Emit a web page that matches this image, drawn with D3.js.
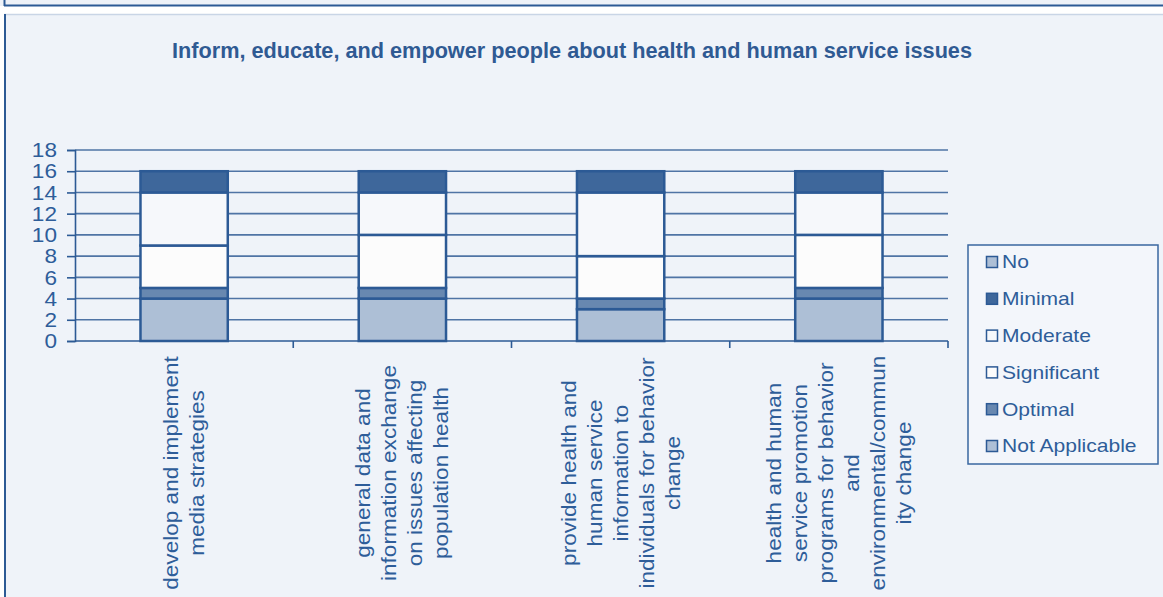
<!DOCTYPE html>
<html>
<head>
<meta charset="utf-8">
<script src="https://cdn.jsdelivr.net/npm/d3@7"></script>
<style>
  body { margin: 0; background: #ffffff; }
  svg { display: block; font-family: "Liberation Sans", Arial, sans-serif; }
</style>
</head>
<body>
<div id="chart"></div>
<script>

// chart data
const title = "Inform, educate, and empower people about health and human service issues";

const categories = ["c1", "c2", "c3", "c4"];

const categoryLabels = [
  ["develop and implement", "media strategies"],
  ["general data and", "information exchange", "on issues affecting", "population health"],
  ["provide health and", "human service", "information to", "individuals for behavior", "change"],
  ["health and human", "service promotion", "programs for behavior", "and", "environmental/commun", "ity change"]
];

// stacking order, bottom to top
const seriesNames = ["Not Applicable", "Optimal", "Significant", "Moderate", "Minimal", "No"];

const notApplicable = [4, 4, 3, 4];
const optimal       = [1, 1, 1, 1];
const significant   = [4, 5, 4, 5];
const moderate      = [5, 4, 6, 4];
const minimal       = [2, 2, 2, 2];
const no            = [0, 0, 0, 0];

const yTicks = [0, 2, 4, 6, 8, 10, 12, 14, 16, 18];

const width = 1163, height = 597;
const margin = {top: 150, right: 215, bottom: 256, left: 75};

const colors = {
  "Not Applicable": "#adbfd6",
  "Optimal": "#6888b0",
  "Significant": "#fcfcfc",
  "Moderate": "#f6f8fb",
  "Minimal": "#3e679b",
  "No": "#adbfd6"
};
const blue = "#2c5a95";
const textBlue = "#2e5d99";

// build rows for d3.stack
const seriesValues = [notApplicable, optimal, significant, moderate, minimal, no];
const rows = categories.map((c, i) => {
  let r = {cat: c};
  seriesNames.forEach((s, j) => { r[s] = seriesValues[j][i]; });
  return r;
});
const stacked = d3.stack().keys(seriesNames)(rows);

let svg = d3.select("#chart")
  .append("svg")
  .attr("width", width)
  .attr("height", height);

// backgrounds / frames
svg.append("rect").attr("x", 0).attr("y", 0).attr("width", width).attr("height", 6)
   .attr("fill", "#eef2f8");
svg.append("line").attr("x1", 4).attr("x2", width).attr("y1", 5.5).attr("y2", 5.5)
   .attr("stroke", blue).attr("stroke-width", 2);
svg.append("line").attr("x1", 4.5).attr("x2", 4.5).attr("y1", 0).attr("y2", 6)
   .attr("stroke", blue).attr("stroke-width", 2);

svg.append("rect").attr("x", 4).attr("y", 14).attr("width", width).attr("height", height)
   .attr("fill", "#eff3f9");
svg.append("line").attr("x1", 4).attr("x2", width).attr("y1", 14.5).attr("y2", 14.5)
   .attr("stroke", "#c9d5e6").attr("stroke-width", 1.5);
svg.append("line").attr("x1", 5).attr("x2", 5).attr("y1", 14).attr("y2", height)
   .attr("stroke", blue).attr("stroke-width", 2);

// title
svg.append("text")
   .attr("x", 172).attr("y", 58)
   .attr("textLength", 800).attr("lengthAdjust", "spacingAndGlyphs")
   .attr("font-size", "22.5px").attr("font-weight", "bold")
   .attr("fill", "#2f5a93")
   .text(title);

// scales
const yScale = d3.scaleLinear()
  .domain([0, 18])
  .range([height - margin.bottom, margin.top]);

const xScale = d3.scaleBand()
  .domain(categories)
  .range([margin.left, width - margin.right])
  .paddingInner(0.6)
  .paddingOuter(0.3);

const step = xScale.step();
const x0 = margin.left, x1 = width - margin.right;

// gridlines
svg.append("g")
  .selectAll("line")
  .data(yTicks.filter(d => d > 0))
  .enter()
  .append("line")
    .attr("x1", x0).attr("x2", x1)
    .attr("y1", d => yScale(d)).attr("y2", d => yScale(d))
    .attr("stroke", "#4f74a5").attr("stroke-width", 1.6);

// y axis
const yAxis = svg.append("g")
  .attr("transform", `translate(${x0}, 0)`)
  .call(d3.axisLeft(yScale).tickValues(yTicks).tickSize(8).tickFormat(""));
yAxis.select(".domain").attr("stroke", blue).attr("stroke-width", 1.6);
yAxis.selectAll(".tick line").attr("stroke", blue).attr("stroke-width", 1.6);

svg.append("g")
  .selectAll("text")
  .data(yTicks)
  .enter()
  .append("text")
    .attr("transform", d => `translate(57, ${yScale(d)}) scale(1.13,1)`)
    .attr("text-anchor", "end")
    .attr("dy", "0.36em")
    .attr("font-size", "20px")
    .attr("fill", textBlue)
    .text(d => d);

// x axis with ticks at category boundaries
const boundaries = d3.range(categories.length + 1).map(i => x0 + i * step);
svg.append("line")
  .attr("x1", x0).attr("x2", x1)
  .attr("y1", yScale(0)).attr("y2", yScale(0))
  .attr("stroke", blue).attr("stroke-width", 1.6);
svg.append("g")
  .selectAll("line")
  .data(boundaries.slice(1))
  .enter()
  .append("line")
    .attr("x1", d => d).attr("x2", d => d)
    .attr("y1", yScale(0)).attr("y2", yScale(0) + 7)
    .attr("stroke", blue).attr("stroke-width", 1.6);

// bars
svg.append("g")
  .selectAll("g")
  .data(stacked)
  .enter()
  .append("g")
    .attr("fill", d => colors[d.key])
  .selectAll("rect")
  .data(d => d.filter(p => p[1] - p[0] > 0))
  .enter()
  .append("rect")
    .attr("x", d => xScale(d.data.cat))
    .attr("y", d => yScale(d[1]))
    .attr("width", xScale.bandwidth())
    .attr("height", d => yScale(d[0]) - yScale(d[1]))
    .attr("stroke", blue)
    .attr("stroke-width", 2.5);

// category labels, rotated
const labelCenterY = 473;
const lineGap = 26;
categories.forEach((c, i) => {
  const cx = xScale(c) + xScale.bandwidth() / 2;
  const lines = categoryLabels[i];
  svg.append("g")
    .selectAll("text")
    .data(lines)
    .enter()
    .append("text")
      .attr("transform", (d, j) =>
        `translate(${cx + (j - (lines.length - 1) / 2) * lineGap}, ${labelCenterY}) rotate(-90) scale(1.13,1)`)
      .attr("text-anchor", "middle")
      .attr("dy", "0.35em")
      .attr("font-size", "20px")
      .attr("fill", textBlue)
      .text(d => d);
});

// legend
const legendNames = seriesNames.slice().reverse();
const legend = svg.append("g");
legend.append("rect")
  .attr("x", 968).attr("y", 245)
  .attr("width", 190).attr("height", 219)
  .attr("fill", "#f3f6fb")
  .attr("stroke", "#3a67a0").attr("stroke-width", 1.5);

const legendY = d3.scalePoint()
  .domain(legendNames)
  .range([262, 446]);

legend.selectAll(".swatch")
  .data(legendNames)
  .enter()
  .append("rect")
    .attr("class", "swatch")
    .attr("x", 986.5)
    .attr("y", d => legendY(d) - 5.5)
    .attr("width", 11).attr("height", 11)
    .attr("fill", d => colors[d])
    .attr("stroke", blue).attr("stroke-width", 1.5);

legend.selectAll(".ltext")
  .data(legendNames)
  .enter()
  .append("text")
    .attr("class", "ltext")
    .attr("transform", d => `translate(1002, ${legendY(d)}) scale(1.17,1)`)
    .attr("dy", "0.36em")
    .attr("font-size", "18px")
    .attr("fill", textBlue)
    .text(d => d);

</script>
</body>
</html>
